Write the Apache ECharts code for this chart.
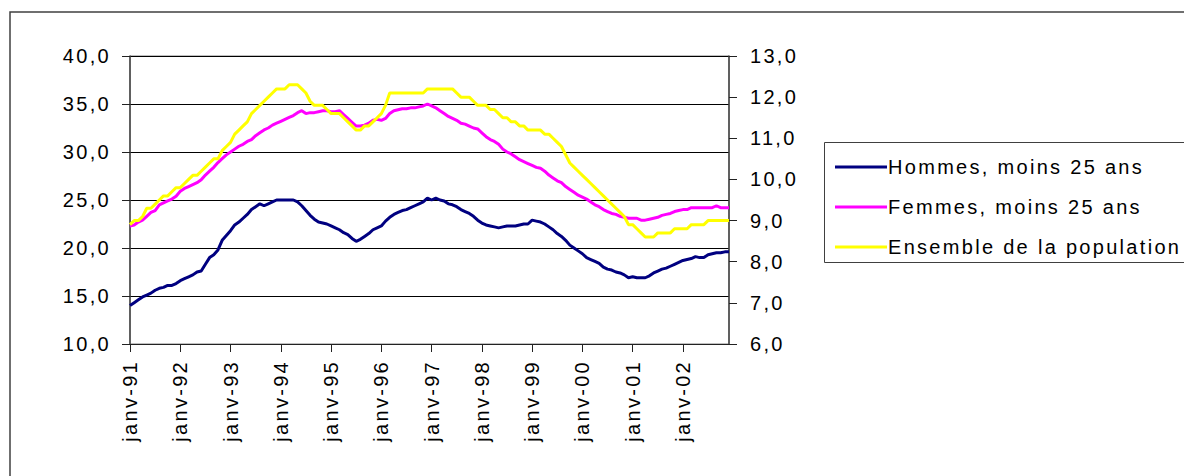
<!DOCTYPE html>
<html>
<head>
<meta charset="utf-8">
<script src="https://cdn.jsdelivr.net/npm/echarts@6/dist/echarts.min.js"></script>
<style>
  html, body { margin: 0; padding: 0; background: #fff; }
  #chart { width: 1184px; height: 476px; }
  #chart text { letter-spacing: 2.3px; }
</style>
</head>
<body>
<div id="chart"></div>
<script>
// months / years used to build the category labels
const monthNames = ['janv', 'févr', 'mars', 'avr', 'mai', 'juin', 'juil', 'août', 'sept', 'oct', 'nov', 'déc']
const years = ['91', '92', '93', '94', '95', '96', '97', '98', '99', '00', '01', '02']

const seriesNames = ['Hommes, moins 25 ans', 'Femmes, moins 25 ans', 'Ensemble de la population']

// left axis
const hommes = [
  14.0, 14.3, 14.6, 14.9, 15.1, 15.3, 15.6, 15.8, 15.9, 16.1, 16.1, 16.3,
  16.6, 16.8, 17.0, 17.2, 17.5, 17.6, 18.3, 19.0, 19.3, 19.8, 20.8, 21.3,
  21.8, 22.4, 22.7, 23.1, 23.5, 24.0, 24.3, 24.6, 24.4, 24.6, 24.8, 25.0,
  25.0, 25.0, 25.0, 25.0, 24.8, 24.4, 23.9, 23.4, 23.0, 22.7, 22.6, 22.5,
  22.3, 22.1, 21.9, 21.6, 21.4, 21.0, 20.7, 20.9, 21.2, 21.5, 21.9, 22.1,
  22.3, 22.8, 23.2, 23.5, 23.7, 23.9, 24.0, 24.2, 24.4, 24.6, 24.8, 25.2,
  25.0, 25.2, 25.0, 24.9, 24.6, 24.5, 24.3, 24.0, 23.8, 23.6, 23.3, 22.9,
  22.6, 22.4, 22.3, 22.2, 22.1, 22.2, 22.3, 22.3, 22.3, 22.4, 22.5, 22.5,
  22.9, 22.8, 22.7, 22.5, 22.2, 21.9, 21.5, 21.2, 20.8, 20.3, 20.0, 19.7,
  19.4, 19.0, 18.8, 18.6, 18.4, 18.0, 17.8, 17.7, 17.5, 17.4, 17.2, 16.9,
  17.0, 16.9, 16.9, 16.9, 17.1, 17.4, 17.6, 17.8, 17.9, 18.1, 18.3, 18.5,
  18.7, 18.8, 18.9, 19.1, 19.0, 19.0, 19.3, 19.4, 19.5, 19.5, 19.6, 19.6
]
const femmes = [
  22.3, 22.4, 22.7, 22.9, 23.3, 23.7, 23.9, 24.5, 24.7, 24.9, 25.1, 25.4,
  25.9, 26.2, 26.4, 26.6, 26.8, 27.1, 27.6, 28.0, 28.4, 28.9, 29.3, 29.7,
  30.0, 30.3, 30.6, 30.8, 31.1, 31.3, 31.7, 32.0, 32.3, 32.5, 32.8, 33.0,
  33.2, 33.4, 33.6, 33.8, 34.1, 34.3, 34.0, 34.1, 34.1, 34.2, 34.3, 34.3,
  34.2, 34.2, 34.3, 33.9, 33.5, 33.1, 32.7, 32.7, 32.8, 33.0, 33.3, 33.4,
  33.3, 33.5, 34.0, 34.3, 34.4, 34.5, 34.5, 34.6, 34.6, 34.7, 34.8, 35.0,
  34.8, 34.6, 34.3, 34.0, 33.7, 33.5, 33.3, 33.0, 32.9, 32.7, 32.5, 32.4,
  32.0, 31.6, 31.3, 31.1, 30.8, 30.3, 30.0, 29.8, 29.5, 29.2, 29.0, 28.8,
  28.6, 28.4, 28.3, 28.0, 27.6, 27.3, 27.0, 26.8, 26.4, 26.1, 25.8, 25.5,
  25.3, 25.1, 24.8, 24.5, 24.3, 24.0, 23.8, 23.6, 23.5, 23.3, 23.2, 23.1,
  23.1, 23.1, 22.9, 22.9, 23.0, 23.1, 23.2, 23.4, 23.5, 23.6, 23.8, 23.9,
  24.0, 24.0, 24.2, 24.2, 24.2, 24.2, 24.2, 24.2, 24.4, 24.2, 24.2, 24.2
]
// right axis
const ensemble = [
  8.9, 9.0, 9.0, 9.1, 9.3, 9.3, 9.4, 9.5, 9.6, 9.6, 9.7, 9.8,
  9.8, 9.9, 10.0, 10.1, 10.1, 10.2, 10.3, 10.4, 10.5, 10.5, 10.7, 10.8,
  10.9, 11.1, 11.2, 11.3, 11.4, 11.6, 11.7, 11.8, 11.9, 12.0, 12.1, 12.2,
  12.2, 12.2, 12.3, 12.3, 12.3, 12.2, 12.1, 11.9, 11.8, 11.8, 11.8, 11.7,
  11.6, 11.6, 11.6, 11.5, 11.4, 11.3, 11.2, 11.2, 11.3, 11.3, 11.4, 11.5,
  11.6, 11.8, 12.1, 12.1, 12.1, 12.1, 12.1, 12.1, 12.1, 12.1, 12.1, 12.2,
  12.2, 12.2, 12.2, 12.2, 12.2, 12.2, 12.1, 12.0, 12.0, 12.0, 11.9, 11.8,
  11.8, 11.8, 11.7, 11.7, 11.6, 11.5, 11.5, 11.4, 11.4, 11.3, 11.3, 11.2,
  11.2, 11.2, 11.2, 11.1, 11.1, 11.0, 10.9, 10.8, 10.6, 10.4, 10.3, 10.2,
  10.1, 10.0, 9.9, 9.8, 9.7, 9.6, 9.5, 9.4, 9.3, 9.2, 9.1, 8.9,
  8.9, 8.8, 8.7, 8.6, 8.6, 8.6, 8.7, 8.7, 8.7, 8.7, 8.8, 8.8,
  8.8, 8.8, 8.9, 8.9, 8.9, 8.9, 9.0, 9.0, 9.0, 9.0, 9.0, 9.0
]

const categories = []
years.forEach(function(y) {
  monthNames.forEach(function(m) {
    categories.push(m + '-' + y)
  })
})

const font = 'Liberation Sans, Arial, sans-serif'
const fmt = function(v) { return v.toFixed(1).replace('.', ',') }

const chart = echarts.init(document.getElementById('chart'), null, { renderer: 'svg' })
const option = {
  animation: false,
  backgroundColor: '#fff',
  textStyle: { fontFamily: font },
  grid: {
    left: 130,
    right: 455,
    top: 56,
    bottom: 132,
    show: true,
    borderColor: '#808080',
    borderWidth: 1
  },
  legend: {
    orient: 'vertical',
    left: 830,
    top: 152,
    itemWidth: 52,
    itemHeight: 3,
    itemGap: 20,
    icon: 'rect',
    textStyle: { fontSize: 20, color: '#000', fontFamily: font, padding: [0, 0, 0, -4] },
    data: seriesNames
  },
  graphic: [
    {
      type: 'rect',
      shape: { x: 10, y: 12, width: 1400, height: 700 },
      style: { fill: 'none', stroke: '#404040', lineWidth: 1.5 },
      silent: true
    },
    {
      type: 'rect',
      shape: { x: 824.5, y: 142.5, width: 600, height: 120 },
      style: { fill: 'none', stroke: '#404040', lineWidth: 1 },
      silent: true
    }
  ],
  xAxis: {
    type: 'category',
    data: categories,
    boundaryGap: false,
    axisLine: { lineStyle: { color: '#222', width: 1 } },
    axisTick: { interval: 11, length: 8, lineStyle: { color: '#222' } },
    axisLabel: {
      interval: 11,
      rotate: 90,
      margin: 16,
      fontSize: 20,
      color: '#000',
      fontFamily: font
    },
    splitLine: { show: false }
  },
  yAxis: [
    {
      type: 'value',
      min: 10,
      max: 40,
      interval: 5,
      position: 'left',
      axisLine: { show: true, lineStyle: { color: '#404040', width: 1.5 } },
      axisTick: { show: true, length: 8, lineStyle: { color: '#222' } },
      axisLabel: { formatter: fmt, fontSize: 20, color: '#000', margin: 19, fontFamily: font },
      splitLine: { show: true, lineStyle: { color: '#000', width: 1 } }
    },
    {
      type: 'value',
      min: 6,
      max: 13,
      interval: 1,
      position: 'right',
      axisLine: { show: true, lineStyle: { color: '#404040', width: 1.5 } },
      axisTick: { show: true, length: 8, lineStyle: { color: '#222' } },
      axisLabel: { formatter: fmt, fontSize: 20, color: '#000', margin: 21, fontFamily: font },
      splitLine: { show: false }
    }
  ],
  series: [
    {
      name: seriesNames[0],
      type: 'line',
      yAxisIndex: 0,
      data: hommes,
      showSymbol: false,
      itemStyle: { color: '#000080' },
      lineStyle: { color: '#000080', width: 3 }
    },
    {
      name: seriesNames[1],
      type: 'line',
      yAxisIndex: 0,
      data: femmes,
      showSymbol: false,
      itemStyle: { color: '#ff00ff' },
      lineStyle: { color: '#ff00ff', width: 3 }
    },
    {
      name: seriesNames[2],
      type: 'line',
      yAxisIndex: 1,
      data: ensemble,
      showSymbol: false,
      itemStyle: { color: '#ffff00' },
      lineStyle: { color: '#ffff00', width: 3 }
    }
  ]
}
chart.setOption(option, true)
window.onresize = function() {
  chart.resize()
}
</script>
</body>
</html>
